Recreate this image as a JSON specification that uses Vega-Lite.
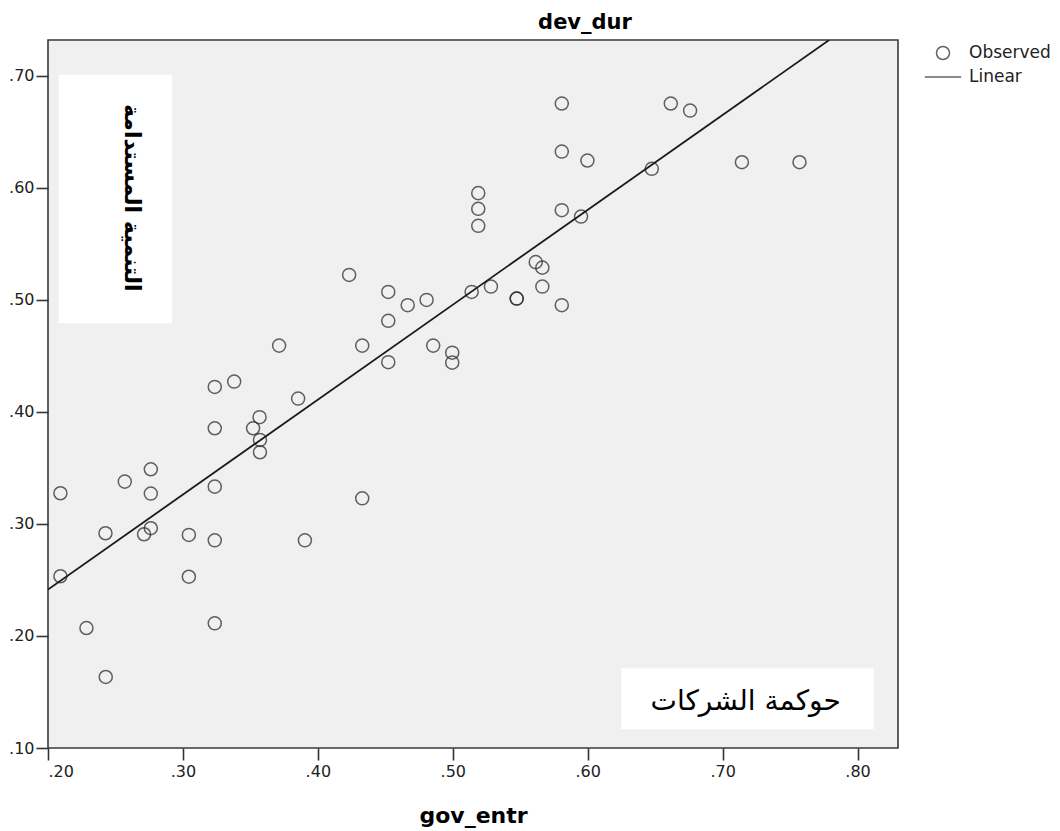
{
  "$schema": "https://vega.github.io/schema/vega-lite/v6.json",
  "width": 850,
  "height": 708,
  "autosize": {"type": "none"},
  "padding": {"left": 48, "top": 40, "right": 162, "bottom": 83},
  "background": "white",
  "title": {"text": "dev_dur", "font": "DejaVu Sans", "fontSize": 21, "fontWeight": "bold", "color": "#000000", "anchor": "middle", "frame": "group", "baseline": "alphabetic", "offset": 12, "dy": 22, "dx": 112},
  "datasets": {
    "points": [
      {"gov_entr": 0.3713, "dev_dur": 0.4592, "series": "Observed"},
      {"gov_entr": 0.3380, "dev_dur": 0.4271, "series": "Observed"},
      {"gov_entr": 0.3236, "dev_dur": 0.4223, "series": "Observed"},
      {"gov_entr": 0.3854, "dev_dur": 0.4119, "series": "Observed"},
      {"gov_entr": 0.3568, "dev_dur": 0.3953, "series": "Observed"},
      {"gov_entr": 0.3520, "dev_dur": 0.3854, "series": "Observed"},
      {"gov_entr": 0.3236, "dev_dur": 0.3854, "series": "Observed"},
      {"gov_entr": 0.3571, "dev_dur": 0.3750, "series": "Observed"},
      {"gov_entr": 0.3571, "dev_dur": 0.3640, "series": "Observed"},
      {"gov_entr": 0.2762, "dev_dur": 0.3488, "series": "Observed"},
      {"gov_entr": 0.2569, "dev_dur": 0.3378, "series": "Observed"},
      {"gov_entr": 0.2092, "dev_dur": 0.3274, "series": "Observed"},
      {"gov_entr": 0.2762, "dev_dur": 0.3271, "series": "Observed"},
      {"gov_entr": 0.3236, "dev_dur": 0.3333, "series": "Observed"},
      {"gov_entr": 0.2762, "dev_dur": 0.2962, "series": "Observed"},
      {"gov_entr": 0.2712, "dev_dur": 0.2908, "series": "Observed"},
      {"gov_entr": 0.2426, "dev_dur": 0.2917, "series": "Observed"},
      {"gov_entr": 0.3044, "dev_dur": 0.2902, "series": "Observed"},
      {"gov_entr": 0.3236, "dev_dur": 0.2854, "series": "Observed"},
      {"gov_entr": 0.3904, "dev_dur": 0.2854, "series": "Observed"},
      {"gov_entr": 0.2092, "dev_dur": 0.2533, "series": "Observed"},
      {"gov_entr": 0.3044, "dev_dur": 0.2529, "series": "Observed"},
      {"gov_entr": 0.2285, "dev_dur": 0.2071, "series": "Observed"},
      {"gov_entr": 0.3236, "dev_dur": 0.2113, "series": "Observed"},
      {"gov_entr": 0.2428, "dev_dur": 0.1634, "series": "Observed"},
      {"gov_entr": 0.4232, "dev_dur": 0.5223, "series": "Observed"},
      {"gov_entr": 0.4522, "dev_dur": 0.5071, "series": "Observed"},
      {"gov_entr": 0.4666, "dev_dur": 0.4953, "series": "Observed"},
      {"gov_entr": 0.4806, "dev_dur": 0.5000, "series": "Observed"},
      {"gov_entr": 0.4522, "dev_dur": 0.4813, "series": "Observed"},
      {"gov_entr": 0.4329, "dev_dur": 0.4592, "series": "Observed"},
      {"gov_entr": 0.4855, "dev_dur": 0.4592, "series": "Observed"},
      {"gov_entr": 0.4522, "dev_dur": 0.4444, "series": "Observed"},
      {"gov_entr": 0.4996, "dev_dur": 0.4529, "series": "Observed"},
      {"gov_entr": 0.4996, "dev_dur": 0.4440, "series": "Observed"},
      {"gov_entr": 0.5140, "dev_dur": 0.5071, "series": "Observed"},
      {"gov_entr": 0.5283, "dev_dur": 0.5119, "series": "Observed"},
      {"gov_entr": 0.5474, "dev_dur": 0.5012, "series": "Observed"},
      {"gov_entr": 0.5474, "dev_dur": 0.5012, "series": "Observed"},
      {"gov_entr": 0.5615, "dev_dur": 0.5337, "series": "Observed"},
      {"gov_entr": 0.5664, "dev_dur": 0.5288, "series": "Observed"},
      {"gov_entr": 0.5664, "dev_dur": 0.5119, "series": "Observed"},
      {"gov_entr": 0.5808, "dev_dur": 0.4953, "series": "Observed"},
      {"gov_entr": 0.4329, "dev_dur": 0.3229, "series": "Observed"},
      {"gov_entr": 0.5808, "dev_dur": 0.6753, "series": "Observed"},
      {"gov_entr": 0.6616, "dev_dur": 0.6753, "series": "Observed"},
      {"gov_entr": 0.6759, "dev_dur": 0.6690, "series": "Observed"},
      {"gov_entr": 0.5808, "dev_dur": 0.6324, "series": "Observed"},
      {"gov_entr": 0.5998, "dev_dur": 0.6244, "series": "Observed"},
      {"gov_entr": 0.6475, "dev_dur": 0.6170, "series": "Observed"},
      {"gov_entr": 0.7143, "dev_dur": 0.6229, "series": "Observed"},
      {"gov_entr": 0.7570, "dev_dur": 0.6229, "series": "Observed"},
      {"gov_entr": 0.5808, "dev_dur": 0.5801, "series": "Observed"},
      {"gov_entr": 0.5951, "dev_dur": 0.5744, "series": "Observed"},
      {"gov_entr": 0.5189, "dev_dur": 0.5953, "series": "Observed"},
      {"gov_entr": 0.5189, "dev_dur": 0.5813, "series": "Observed"},
      {"gov_entr": 0.5189, "dev_dur": 0.5661, "series": "Observed"}
    ],
    "fit": [
      {"gov_entr": 0.2, "dev_dur": 0.2415},
      {"gov_entr": 0.779, "dev_dur": 0.732}
    ],
    "notes": [
      {"name": "v", "label": "التنمية المستدامة", "gov_entr": 0.2079, "gov_entr2": 0.2920, "dev_dur": 0.7009, "dev_dur2": 0.4792, "tx": 0.2621, "ty": 0.5911},
      {"name": "h", "label": "حوكمة الشركات", "gov_entr": 0.6248, "gov_entr2": 0.8119, "dev_dur": 0.1712, "dev_dur2": 0.1167, "tx": 0.7171, "ty": 0.1411}
    ]
  },
  "layer": [
    {
      "data": {"name": "points"},
      "mark": {"type": "point", "filled": false, "color": "#222222", "strokeWidth": 1.5, "size": 170},
      "encoding": {
        "x": {"field": "gov_entr", "type": "quantitative", "title": "gov_entr",
              "scale": {"domain": [0.2, 0.83], "nice": false, "zero": false},
              "axis": {"values": [0.2, 0.3, 0.4, 0.5, 0.6, 0.7, 0.8], "labelExpr": "replace(format(datum.value, '.2f'), '0.', '.')", "grid": false, "domain": false, "tickSize": 12, "tickWidth": 1.6, "tickColor": "#333333", "labelFont": "DejaVu Sans", "labelFontSize": 16, "labelColor": "#222222", "labelPadding": 3, "titleFont": "DejaVu Sans", "titleFontSize": 22, "titleFontWeight": "bold", "titleColor": "#000000", "titleBaseline": "alphabetic", "titleY": 74, "titleAnchor": "middle"}},
        "y": {"field": "dev_dur", "type": "quantitative", "title": null,
              "scale": {"domain": [0.1, 0.732], "nice": false, "zero": false},
              "axis": {"values": [0.1, 0.2, 0.3, 0.4, 0.5, 0.6, 0.7], "labelExpr": "replace(format(datum.value, '.2f'), '0.', '.')", "grid": false, "domain": false, "tickSize": 12, "tickWidth": 1.6, "tickColor": "#333333", "labelFont": "DejaVu Sans", "labelFontSize": 16, "labelColor": "#222222", "labelPadding": 2}},
        "shape": {"field": "series", "type": "nominal",
                  "scale": {"domain": ["Observed", "Linear"], "range": ["circle", "M-2.8,0H2.8"]},
                  "legend": {"title": null, "orient": "none", "legendX": 886.5, "legendY": 4.5, "padding": 0, "symbolSize": 169, "symbolStrokeWidth": 1.5, "symbolStrokeColor": "#222222", "symbolFillColor": "transparent", "labelFont": "DejaVu Sans", "labelFontSize": 17, "labelColor": "#222222", "labelOffset": 17.5, "rowPadding": 5}}
      }
    },
    {
      "data": {"name": "notes"},
      "mark": {"type": "rect", "fill": "#ffffff", "stroke": null},
      "encoding": {
        "x": {"field": "gov_entr", "type": "quantitative", "title": "gov_entr"},
        "x2": {"field": "gov_entr2"},
        "y": {"field": "dev_dur", "type": "quantitative", "title": null},
        "y2": {"field": "dev_dur2"}
      }
    },
    {
      "data": {"name": "fit"},
      "mark": {"type": "line", "color": "#1a1a1a", "strokeWidth": 1.8, "clip": true},
      "encoding": {
        "x": {"field": "gov_entr", "type": "quantitative", "title": "gov_entr"},
        "y": {"field": "dev_dur", "type": "quantitative", "title": null}
      }
    },
    {
      "data": {"name": "notes"},
      "transform": [{"filter": "datum.name === 'v'"}],
      "mark": {"type": "text", "angle": 90, "align": "center", "baseline": "middle", "font": "DejaVu Sans", "fontSize": 22, "fontWeight": "bold", "color": "#000000"},
      "encoding": {
        "x": {"field": "tx", "type": "quantitative", "title": "gov_entr"},
        "y": {"field": "ty", "type": "quantitative", "title": null},
        "text": {"field": "label", "type": "nominal"}
      }
    },
    {
      "data": {"name": "notes"},
      "transform": [{"filter": "datum.name === 'h'"}],
      "mark": {"type": "text", "align": "center", "baseline": "middle", "font": "DejaVu Sans", "fontSize": 28, "color": "#000000"},
      "encoding": {
        "x": {"field": "tx", "type": "quantitative", "title": "gov_entr"},
        "y": {"field": "ty", "type": "quantitative", "title": null},
        "text": {"field": "label", "type": "nominal"}
      }
    }
  ],
  "config": {
    "view": {"fill": "#f0f0f0", "stroke": "#3a3a3a", "strokeWidth": 1.6},
    "font": "DejaVu Sans"
  }
}
